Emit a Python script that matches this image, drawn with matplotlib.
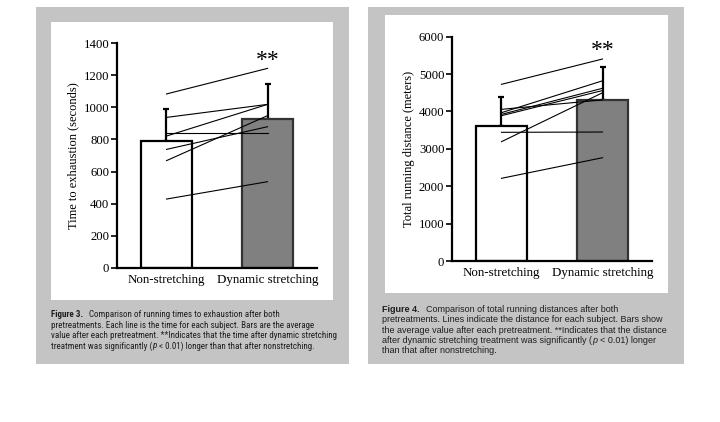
import matplotlib
matplotlib.use('Agg')
import matplotlib.pyplot as plt
from matplotlib.patches import Rectangle
from matplotlib import font_manager

names = {f.name for f in font_manager.fontManager.ttflist}
NARROW = 'Liberation Sans'
for cand in ['Liberation Sans Narrow', 'Roboto Condensed', 'Open Sans Condensed',
             'Noto Sans Condensed', 'DejaVu Sans Condensed']:
    if cand in names:
        NARROW = cand
        break

# data
groups = ['Non-stretching', 'Dynamic stretching']

time_means = [790, 928]
time_err_top = [990, 1146]
time_subjects = [
    (1083, 1242),
    (937, 1018),
    (821, 1018),
    (838, 838),
    (738, 879),
    (668, 948),
    (429, 537),
]
time_ticks = [0, 200, 400, 600, 800, 1000, 1200, 1400]
time_star = 1294

dist_means = [3620, 4306]
dist_err_top = [4395, 5197]
dist_subjects = [
    (4726, 5403),
    (4057, 4310),
    (3968, 4820),
    (3923, 4620),
    (3887, 4560),
    (3192, 4500),
    (3442, 3450),
    (2212, 2763),
]
dist_ticks = [0, 1000, 2000, 3000, 4000, 5000, 6000]
dist_star = 5644

# captions: the italic p is marked as _p_
cap3_head = 'Figure 3.'
cap3_lines = ['Comparison of running times to exhaustion after both',
              'pretreatments. Each line is the time for each subject. Bars are the average',
              'value after each pretreatment. **Indicates that the time after dynamic stretching',
              'treatment was significantly (_p_ < 0.01) longer than that after nonstretching.']
cap4_head = 'Figure 4.'
cap4_lines = ['Comparison of total running distances after both',
              'pretreatments. Lines indicate the distance for each subject. Bars show',
              'the average value after each pretreatment. **Indicates that the distance',
              'after dynamic stretching treatment was significantly (_p_ < 0.01) longer',
              'than that after nonstretching.']

W, H = 720, 422
fig = plt.figure(figsize=(7.2, 4.22), dpi=100)
fig.patch.set_facecolor('white')

GRAY = '#c4c4c4'
CAP_COLOR = '#1e1e1e'


def box(x0, y0, x1, y1, color):
    fig.add_artist(Rectangle((x0 / W, 1 - y1 / H), (x1 - x0) / W, (y1 - y0) / H,
                             transform=fig.transFigure, facecolor=color,
                             edgecolor='none', zorder=-10))


def axes_at(x0, y0, x1, y1):
    return fig.add_axes([x0 / W, 1 - y1 / H, (x1 - x0) / W, (y1 - y0) / H])


box(36, 7, 349, 364, GRAY)
box(51, 22, 333, 300, 'white')
box(368, 7, 684, 364, GRAY)
box(385, 15, 668, 293, 'white')


def panel(ax, means, err_top, subjects, ticks, ylabel, star_y):
    x = [0, 1]
    ax.bar(x, means, width=0.505, color=['white', '#808080'],
           edgecolor=['black', '#333333'], linewidth=1.6, zorder=2)
    for i in x:
        ax.errorbar(i, means[i], yerr=[[0], [err_top[i] - means[i]]], fmt='none',
                    ecolor='black', elinewidth=1.6, capsize=2.2, capthick=1.6, zorder=1)
    for a, b in subjects:
        ax.plot(x, [a, b], color='black', linewidth=0.8, zorder=3)
    ax.set_xlim(-0.49, 1.49)
    ax.set_ylim(0, ticks[-1])
    ax.set_yticks(ticks)
    ax.set_xticks(x)
    ax.set_xticklabels(groups)
    for s in ['top', 'right']:
        ax.spines[s].set_visible(False)
    for s in ['left', 'bottom']:
        ax.spines[s].set_linewidth(1.6)
    ax.tick_params(axis='y', length=4, width=1.2, pad=1.5, labelsize=9.2)
    ax.tick_params(axis='x', length=0, pad=4, labelsize=9.4)
    for lab in ax.get_xticklabels() + ax.get_yticklabels():
        lab.set_family('Liberation Serif')
    ax.set_ylabel(ylabel, family='Liberation Serif', fontsize=9, labelpad=3)
    ax.text(1, star_y, '**', ha='center', va='center',
            fontsize=17, family='Liberation Serif')
    ax.patch.set_alpha(0)


ax1 = axes_at(117, 43, 317, 268)
panel(ax1, time_means, time_err_top, time_subjects, time_ticks,
      'Time to exhaustion (seconds)', time_star)

ax2 = axes_at(452, 36.7, 652, 261)
panel(ax2, dist_means, dist_err_top, dist_subjects, dist_ticks,
      'Total running distance (meters)', dist_star)

renderer = fig.canvas.get_renderer()


def width(s, size, family, **kw):
    t = fig.text(0, 0, s, fontsize=size, family=family, **kw)
    w = t.get_window_extent(renderer).width
    t.remove()
    return w


def put(xpx, ypx, s, size, family, **kw):
    t = fig.text(xpx / W, 1 - ypx / H, s, ha='left', va='baseline', fontsize=size,
                 family=family, color=CAP_COLOR, **kw)
    return t.get_window_extent(renderer).x1


def caption(x, y0, step, head, lines, family, widest, target):
    # fit the font size so that the widest line spans the measured width
    size = 10 * target / width(lines[widest], 10, family)
    space = width('x x', size, family) - width('xx', size, family)
    head_end = put(x, y0, head, size, family, weight='bold')
    for i, line in enumerate(lines):
        xi = head_end + 6 if i == 0 else x
        yi = y0 + i * step
        if '_p_' in line:
            before, after = line.split('_p_')
            end = put(xi, yi, before, size, family)
            end = put(end + 0.3, yi, 'p', size, family, style='italic')
            put(end + space, yi, after.lstrip(), size, family)
        else:
            put(xi, yi, line, size, family)


caption(51, 317, 10.5, cap3_head, cap3_lines, NARROW, 2, 282)
caption(382, 312, 10.35, cap4_head, cap4_lines, 'Liberation Sans', 2, 286)

fig.savefig('out.png', dpi=100, facecolor='white')
